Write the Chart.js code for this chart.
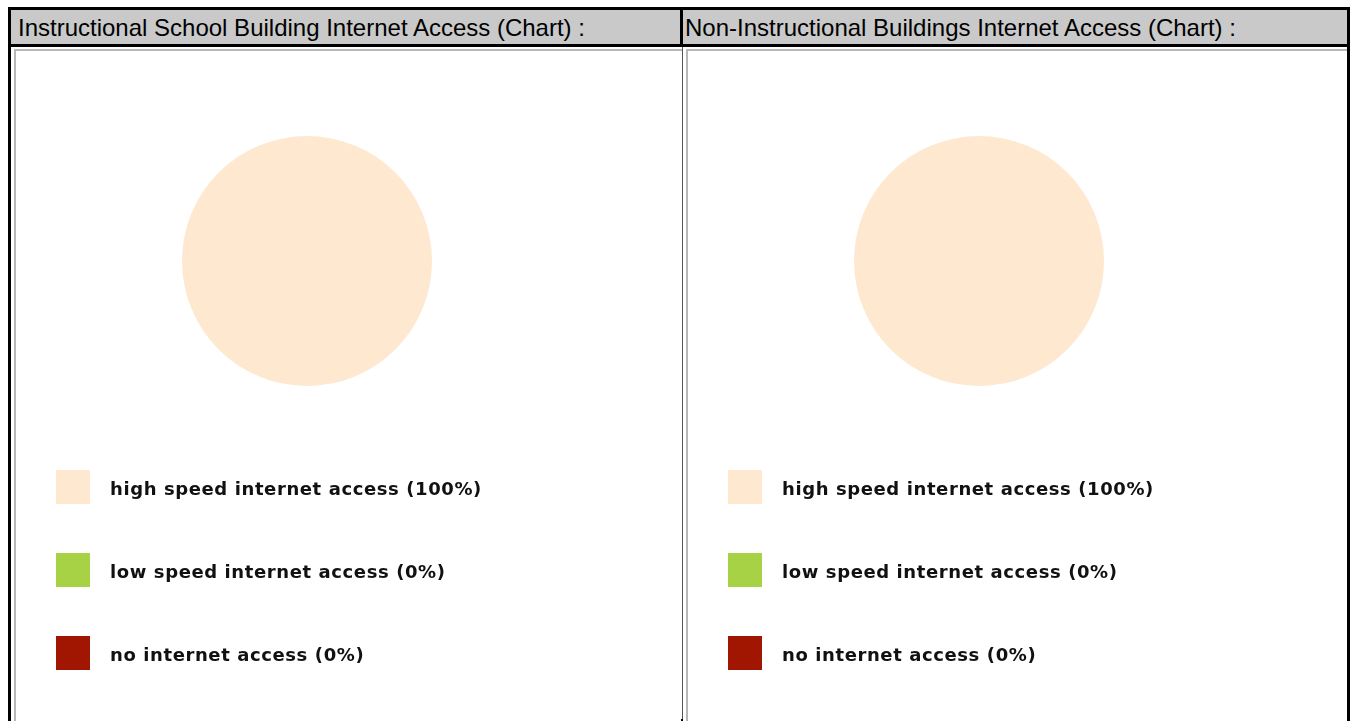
<!DOCTYPE html>
<html>
<head>
<meta charset="utf-8">
<script src="https://cdn.jsdelivr.net/npm/chart.js@4/dist/chart.umd.min.js"></script>
<style>
  html, body { margin: 0; padding: 0; background: #fff; overflow: hidden; }
  body { width: 1353px; height: 721px; position: relative; }
  .line { position: absolute; background: #000; }
  .head { position: absolute; top: 10px; height: 34px; background: #c9c9c9;
          font-family: "Liberation Sans", Arial, sans-serif; font-size: 24px; color: #000;
          line-height: 36px; white-space: nowrap; overflow: hidden; }
  .img { position: absolute; top: 49px; height: 680px; background: #fff;
         border-top: 2px solid #b8b8b8; border-left: 2px solid #b8b8b8; }
  .img canvas { position: absolute; left: 0; top: 0; }
</style>
</head>
<body>
  <div class="line" style="left:8px;top:7px;width:1342px;height:3px"></div>
  <div class="line" style="left:8px;top:7px;width:3px;height:714px"></div>
  <div class="line" style="left:1347px;top:7px;width:3px;height:714px"></div>
  <div class="head" style="left:11px;width:669px;padding-left:7px;box-sizing:border-box">Instructional School Building Internet Access (Chart) :</div>
  <div class="head" style="left:683px;width:664px;padding-left:2px;box-sizing:border-box">Non-Instructional Buildings Internet Access (Chart) :</div>
  <div class="line" style="left:680px;top:7px;width:3px;height:40px"></div>
  <div class="line" style="left:8px;top:44px;width:1342px;height:3px"></div>

  <div class="img" style="left:14px;width:667px"><canvas id="chartA" width="667" height="680"></canvas></div>
  <div class="line" style="left:682px;top:47px;width:1px;height:672px;background:#555"></div>
  <div class="line" style="left:681px;top:719px;width:2px;height:2px"></div>
  <div class="img" style="left:686px;width:659px"><canvas id="chartB" width="659" height="680"></canvas></div>

<script>
// chart data
const categories = ['high speed internet access', 'low speed internet access', 'no internet access'];
const instructionalValues = [100, 0, 0];
const nonInstructionalValues = [100, 0, 0];
const sliceColors = ['#ffe8d0', '#a8d246', '#a01600'];

// draws the legend as a vertical list under the pie
const stackedLegend = {
    id: 'stackedLegend',
    afterDraw(chart) {
        const ctx = chart.ctx;
        const ds = chart.data.datasets[0];
        const total = ds.data.reduce((a, b) => a + b, 0);
        ctx.save();
        chart.data.labels.forEach((label, i) => {
            const y = 419 + i * 83;
            ctx.fillStyle = ds.backgroundColor[i];
            ctx.fillRect(40, y, 34, 34);
            const pct = Math.round(ds.data[i] / total * 100);
            ctx.fillStyle = '#111';
            ctx.font = 'bold 18px "DejaVu Sans"';
            ctx.textBaseline = 'alphabetic';
            if (ctx.letterSpacing !== undefined) ctx.letterSpacing = '0.6px';
            ctx.fillText(label + ' (' + pct + '%)', 94, y + 25);
        });
        ctx.restore();
    }
};

function makePie(id, values, rightPad) {
    new Chart(document.getElementById(id), {
        type: 'pie',
        data: {
            labels: categories,
            datasets: [{
                data: values,
                backgroundColor: sliceColors,
                borderWidth: 0
            }]
        },
        options: {
            responsive: false,
            animation: false,
            layout: { padding: { left: 166, right: rightPad, top: 85, bottom: 345 } },
            plugins: {
                legend: { display: false },
                tooltip: { enabled: false }
            }
        },
        plugins: [stackedLegend]
    });
}

makePie('chartA', instructionalValues, 251);
makePie('chartB', nonInstructionalValues, 243);
</script>
</body>
</html>
